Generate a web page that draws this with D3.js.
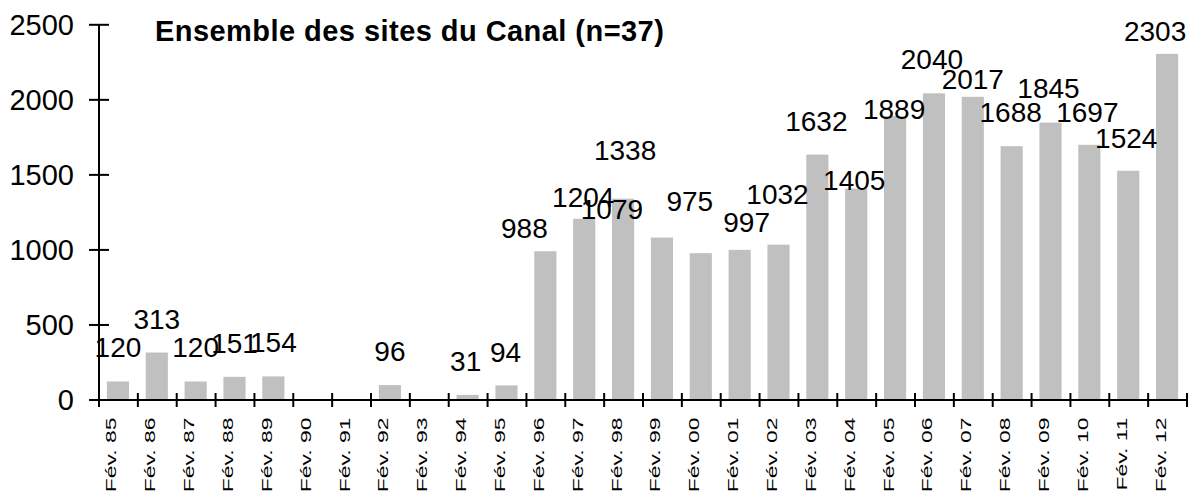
<!DOCTYPE html>
<html>
<head>
<meta charset="utf-8">
<script src="https://cdn.jsdelivr.net/npm/d3@7"></script>
<style>
  body { margin: 0; background: #fff; }
  svg { display: block; }
  text { font-family: Arial, "Liberation Sans", sans-serif; fill: #000; }
</style>
</head>
<body>
<div id="chart"></div>
<script>
// bar chart - counts per February survey, all canal sites

const years = ["85", "86", "87", "88", "89", "90", "91", "92", "93", "94", "95", "96", "97", "98",
    "99", "00", "01", "02", "03", "04", "05", "06", "07", "08", "09", "10", "11", "12"];
const counts = [120, 313, 120, 151, 154, null, null, 96, null, 31, 94, 988, 1204, 1338,
    1079, 975, 997, 1032, 1632, 1405, 1889, 2040, 2017, 1688, 1845, 1697, 1524, 2303];
const yTicks = [0, 500, 1000, 1500, 2000, 2500];
const title = "Ensemble des sites du Canal (n=37)";

// hand-moved data labels in the original, [dx, dy] in px from the default spot
const labelShift = [[0, 0], [0, 0], [0, 0], [0, 0], [0, 0], [0, 0], [0, 0], [0, 0], [0, 0], [-2, 0],
    [-1, 1], [-21, 11], [-1, 12], [2, -15], [-50, 5], [-11, -18], [7, 6], [-1, -17], [-1, 0],
    [-2, 25], [-1, 27], [-2, 0], [0, 16], [-1, 0], [-2, -1], [-2, 1], [-2, 1], [-12, 11]];

const width = 1196, height = 495;
const plot = { left: 98.5, right: 1186.5, top: 24.3, bottom: 399.5 };
const labelGap = 24;

const svg = d3.select("#chart").append("svg")
    .attr("width", width)
    .attr("height", height);

const x = d3.scaleBand()
    .domain(years)
    .range([plot.left, plot.right])
    .paddingInner(0.43)
    .paddingOuter(0.215);

const y = d3.scaleLinear()
    .domain([0, 2500])
    .range([plot.bottom, plot.top]);

// bars
svg.append("g")
    .selectAll("rect")
    .data(years.map((yr, i) => ({ yr, v: counts[i] })).filter(d => d.v !== null))
    .enter()
    .append("rect")
    .attr("x", d => x(d.yr))
    .attr("y", d => y(d.v))
    .attr("width", x.bandwidth())
    .attr("height", d => y(0) - y(d.v))
    .attr("fill", "#c0c0c0");

// y axis
const yAxis = svg.append("g")
    .attr("transform", `translate(${plot.left},0)`)
    .call(d3.axisLeft(y).tickValues(yTicks).tickFormat(d3.format("d"))
        .tickSize(9.5).tickPadding(15).tickSizeOuter(0));
yAxis.select(".domain").attr("stroke", "#000").attr("stroke-width", 2);
yAxis.selectAll(".tick line").attr("x1", 10.5).attr("stroke", "#000").attr("stroke-width", 2);
yAxis.selectAll(".tick text")
    .attr("font-size", "29px")
    .attr("font-family", "Arial, 'Liberation Sans', sans-serif")
    .attr("dy", "0.34em");

// x axis: ticks on band edges
const edge = d3.scaleLinear().domain([0, years.length]).range([plot.left, plot.right]);
const xAxis = svg.append("g")
    .attr("transform", `translate(0,${plot.bottom})`)
    .call(d3.axisBottom(edge).tickValues(d3.range(years.length + 1)).tickSize(7.5).tickFormat("").tickSizeOuter(0));
xAxis.select(".domain").attr("stroke", "#000").attr("stroke-width", 2);
xAxis.selectAll(".tick line").attr("y1", -6.5).attr("stroke", "#000").attr("stroke-width", 2);

// category labels, rotated and stretched like the original
const stretch = 1.58;
const xLabels = svg.append("g")
    .attr("transform", `translate(0,${plot.bottom})`)
    .call(d3.axisBottom(x).tickSize(0).tickFormat(d => "Fév. " + d));
xLabels.select(".domain").remove();
xLabels.selectAll(".tick text")
    .attr("font-size", "14.5px")
    .attr("font-family", "Arial, 'Liberation Sans', sans-serif")
    .attr("text-anchor", "end")
    .attr("dy", null)
    .attr("x", -18 / stretch)
    .attr("y", -1.5)
    .attr("transform", `rotate(-90) scale(${stretch},1)`);

// value labels
svg.append("g")
    .selectAll("text")
    .data(years.map((yr, i) => ({ yr, v: counts[i], s: labelShift[i] })).filter(d => d.v !== null))
    .enter()
    .append("text")
    .attr("x", d => x(d.yr) + x.bandwidth() / 2 + d.s[0])
    .attr("y", d => y(d.v) - labelGap + d.s[1])
    .attr("text-anchor", "middle")
    .attr("font-size", "28px")
    .text(d => d.v);

svg.append("text")
    .attr("x", 155)
    .attr("y", 41)
    .attr("font-size", "29px")
    .attr("font-weight", "bold")
    .attr("letter-spacing", "0.45px")
    .text(title);
</script>
</body>
</html>
